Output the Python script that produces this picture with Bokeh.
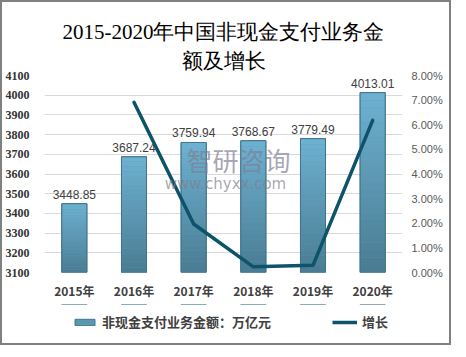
from bokeh.plotting import figure
from bokeh.layouts import column
from bokeh.models import (ColumnDataSource, Range1d, FactorRange, LinearAxis, Label, Title,
                          Legend, LegendItem, PrintfTickFormatter, FixedTicker)
from bokeh.core.properties import value
from bokeh.embed import file_html
from bokeh.resources import INLINE

# ---- data ----
years = ["2015年", "2016年", "2017年", "2018年", "2019年", "2020年"]
amounts = [3448.85, 3687.24, 3759.94, 3768.67, 3779.49, 4013.01]
growth_years = ["2016年", "2017年", "2018年", "2019年", "2020年"]
growth = [6.91, 1.97, 0.23, 0.29, 6.18]
left_ticks = [3100, 3200, 3300, 3400, 3500, 3600, 3700, 3800, 3900, 4000, 4100]
right_ticks = [0, 1, 2, 3, 4, 5, 6, 7, 8]
title_lines = ["2015-2020年中国非现金支付业务金", "额及增长"]
bar_name = "非现金支付业务金额：万亿元"
line_name = "增长"

BASE = 3100
BAR_FILL = "#5b97b3"
BAR_LINE = "#41748c"
LINE_COL = "#0d5369"

p = figure(frame_width=358, frame_height=197, x_range=FactorRange(*years),
           y_range=Range1d(3100, 4100), output_backend="svg",
           toolbar_location=None,
           min_border_left=42, min_border_right=47,
           min_border_top=73, min_border_bottom=32)
p.extra_y_ranges = {"g": Range1d(0, 8)}
p.outline_line_color = None
p.background_fill_color = "white"
p.border_fill_color = "white"

# title (two lines)
p.title.text = title_lines[0]
p.title.align = "center"
p.title.standoff = 0
p.title.text_font = "Liberation Serif"
p.title.text_font_size = "21px"
p.title.text_font_style = "normal"
p.title.text_color = "#000000"
p.add_layout(Title(text=title_lines[1], align="center", standoff=6,
                   text_font="Liberation Serif", text_font_size="21px",
                   text_font_style="normal", text_color="#000000"), "above")

# grid
p.xgrid.grid_line_color = None
p.ygrid.grid_line_color = "#d9d9d9"
p.ygrid.grid_line_width = 1
p.yaxis.ticker = FixedTicker(ticks=left_ticks)

# bars: base, gradient slices, outline on top
src = ColumnDataSource(dict(x=years, top=amounts))
p.vbar(x="x", top="top", bottom=BASE, width=0.42, source=src,
       fill_color=BAR_FILL, line_color=BAR_LINE, line_width=1)
n = 24
c_top = (0x6e, 0xb2, 0xd2)
c_bot = (0x4a, 0x7c, 0x92)
for i in range(n):
    f0 = i / n
    f1 = (i + 1) / n
    t = (i + 0.5) / n
    col = "#%02x%02x%02x" % tuple(int(c_bot[k] + (c_top[k] - c_bot[k]) * t) for k in range(3))
    bots = [BASE + f0 * (a - BASE) for a in amounts]
    tops = [BASE + f1 * (a - BASE) for a in amounts]
    p.vbar(x=years, top=tops, bottom=bots, width=0.42, fill_color=col, line_color=None)
p.vbar(x="x", top="top", bottom=BASE, width=0.42, source=src,
       fill_color=None, line_color=BAR_LINE, line_width=1)

# data labels
p.text(x=years, y=amounts, text=["%.2f" % a for a in amounts],
       text_align="center", text_baseline="bottom", y_offset=-5,
       text_font=value("Liberation Sans"), text_font_size="12px", text_color="#404040")

# growth line
p.line(x=growth_years, y=growth, y_range_name="g", line_color=LINE_COL,
       line_width=3.5, line_join="round", line_cap="round")

# axes
p.xaxis.axis_line_color = None
p.xaxis.major_tick_line_color = None
p.xaxis.major_label_standoff = 3
p.xaxis.major_label_text_font = "Noto Sans CJK SC"
p.xaxis.major_label_text_font_style = "bold"
p.xaxis.major_label_text_font_size = "12px"
p.xaxis.major_label_text_color = "#404040"

p.yaxis.axis_line_color = None
p.yaxis.major_tick_line_color = None
p.yaxis.minor_tick_line_color = None
p.yaxis.major_label_standoff = 9
p.yaxis.major_label_text_font = "Liberation Serif"
p.yaxis.major_label_text_font_style = "bold"
p.yaxis.major_label_text_font_size = "12px"
p.yaxis.major_label_text_color = "#333333"

ra = LinearAxis(y_range_name="g", ticker=FixedTicker(ticks=right_ticks),
                formatter=PrintfTickFormatter(format="%.2f%%"))
ra.axis_line_color = None
ra.major_tick_line_color = None
ra.minor_tick_line_color = None
ra.major_label_standoff = 3
ra.major_label_text_font = "Liberation Sans"
ra.major_label_text_font_size = "11px"
ra.major_label_text_color = "#595959"
p.add_layout(ra, "right")

# watermark
p.add_layout(Label(x=194, y=113, x_units="screen", y_units="screen", text="智研咨询",
                   text_align="center", text_baseline="middle", text_font="Noto Sans CJK SC",
                   text_font_size="26px", text_color="#7f7f95", text_alpha=0.7))
p.add_layout(Label(x=181, y=89, x_units="screen", y_units="screen", text="www.chyxx.com",
                   text_align="center", text_baseline="middle", text_font="DejaVu Sans",
                   text_font_size="15px", text_color="#7f7f8f", text_alpha=0.7))

# legend strip (separate figure; its series lie outside its visible range)
q = figure(width=447, height=39, x_range=FactorRange(*years), y_range=Range1d(-10, -5),
           output_backend="svg", toolbar_location=None, x_axis_type=None, y_axis_type=None,
           min_border=0)
q.outline_line_color = None
q.background_fill_color = "white"
q.border_fill_color = "white"
lb = q.vbar(x=years, top=amounts, bottom=BASE, width=0.42,
            fill_color=BAR_FILL, line_color=BAR_LINE, line_width=1)
ll = q.line(x=growth_years, y=growth, line_color=LINE_COL, line_width=3.5)
legend = Legend(items=[LegendItem(label=bar_name, renderers=[lb]),
                       LegendItem(label=line_name, renderers=[ll])],
                location=(28, 12), orientation="horizontal", padding=0, margin=0,
                spacing=61, glyph_width=25, glyph_height=8, label_standoff=5,
                label_text_font="Noto Sans CJK SC", label_text_font_style="bold",
                label_text_font_size="13px", label_text_color="#404040",
                border_line_color=None, background_fill_alpha=0)
q.add_layout(legend, "center")

layout = column(p, q, spacing=0, styles={"border": "2px solid #808080"})
open("out.html", "w").write(file_html(layout, INLINE))
